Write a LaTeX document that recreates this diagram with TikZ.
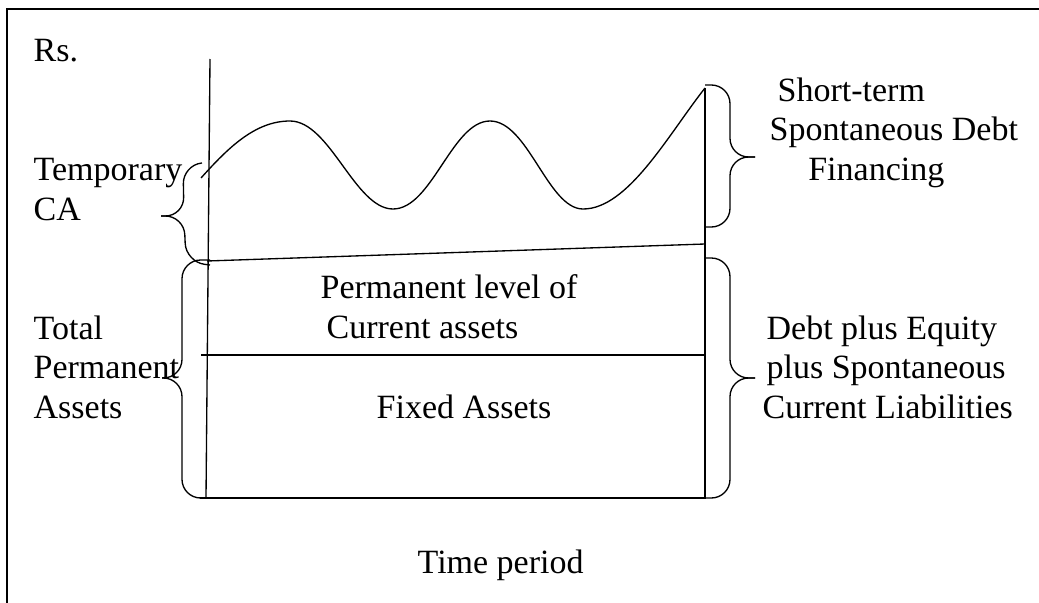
\documentclass[tikz,border=0pt]{standalone}
\usepackage{fontspec}
\setmainfont{Liberation Serif}
\tikzset{
  lbl/.style={inner sep=0pt, anchor=base west, align=left, font=\fontsize{25.5}{29.5}\selectfont},
  brc/.style={rounded corners=14pt},
}
\begin{document}
\begin{tikzpicture}[x=0.75pt,y=-0.75pt,line width=1pt]
		\useasboundingbox (0,0) rectangle (1039,603);
		\draw[line width=1.4pt] (1045,9) -- (7,9) -- (7,610);
		% corners of the chart
		\coordinate (axtop) at (210,59);
		\coordinate (bl) at (206,498);
		\coordinate (br) at (705,498);
		\coordinate (tr) at (705,88);
		\coordinate (ml) at (201,355);
		\coordinate (mr) at (705,355);
		\coordinate (sl) at (207,261);
		\coordinate (sr) at (705,244);
		\draw (axtop) -- (bl);
		\draw (200,498) -- (br) -- (tr);
		\draw (sl) -- (sr);
		\draw (ml) -- (mr);
		\draw (201,178) .. controls (228,148) and (255,121) .. (290,121)
		.. controls (330,121) and (355,209) .. (393,209)
		.. controls (432,209) and (452,121) .. (490,121)
		.. controls (528,121) and (548,209) .. (583,209)
		.. controls (628,209) and (668,135) .. (tr);
		% texts (anchored at the last line)
		\node[lbl] (rs) at (33,61) {Rs.};
		\node[lbl] (tca) at (33,220) {Temporary\\CA};
		\node[lbl] (tpa) at (33,418) {Total\\Permanent\\Assets};
		\node[lbl] (plca) at (320,338) {Permanent level of\\\hspace*{4.5pt}Current assets};
		\node[lbl] (fa) at (376,418) {Fixed Assets};
		\node[lbl] (tp) at (417,573) {Time period};
		\node[lbl] (stsd) at (769,180) {\hspace*{6pt}Short-term\\Spontaneous Debt\\\hspace*{29pt}Financing};
		\node[lbl] (dpe) at (762,418) {\hspace*{3pt}Debt plus Equity\\\hspace*{3pt}plus Spontaneous\\Current Liabilities};
		% braces
		\draw[brc] (202,163) -- (183,165) -- (184,216) -- (161,216);
		\draw[brc] (210,265) -- (186,262) -- (184,216) -- (161,216);
		\draw[brc] (210,260) -- (182,260) -- (182,378) -- (162,378);
		\draw[brc] (bl) -- (182,498) -- (182,378) -- (162,378);
		\draw[brc] (705,85) -| (730,157) -- (755,157);
		\draw[brc] (705,227) -| (730,157) -- (755,157);
		\draw[brc] (705,258) -| (730,378) -- (755,378);
		\draw[brc] (br) -| (730,378) -- (755,378);
\end{tikzpicture}
\end{document}
